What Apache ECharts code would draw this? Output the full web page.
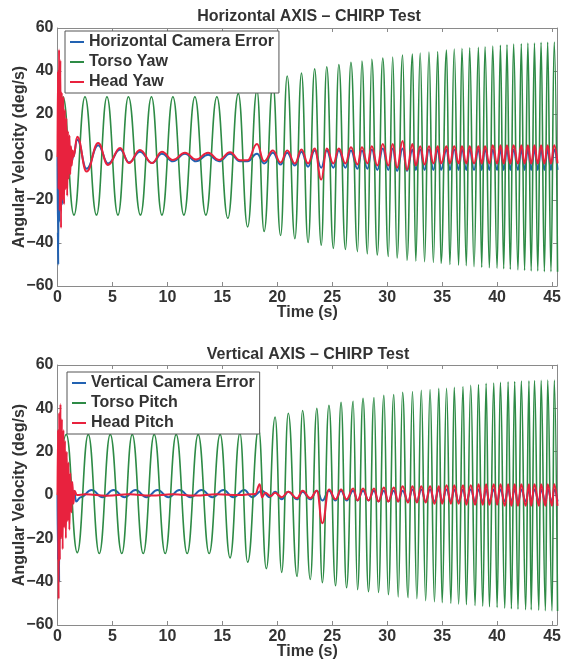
<!DOCTYPE html>
<html>
<head>
<meta charset="utf-8">
<script src="https://cdn.jsdelivr.net/npm/echarts@6/dist/echarts.min.js"></script>
<style>
html,body{margin:0;padding:0;background:#fff;}
#chart{width:561px;height:661px;}
</style>
</head>
<body>
<div id="chart"></div>
<script>
// ---------- DATA ----------
const xTicks = [0, 5, 10, 15, 20, 25, 30, 35, 40, 45];
const yTicks = [-60, -40, -20, 0, 20, 40, 60];

// Horizontal axis: times of the torso extrema (s)
const topTimes = [0, 0.5, 1.5, 2.5, 3.55, 4.5, 5.5, 6.45, 7.55, 8.55, 9.5, 10.5, 11.5, 12.5, 13.5, 14.5, 15.5, 16.45,
  17.3, 18.15, 18.8, 19.6, 20.3, 20.9, 21.6, 22.2, 22.8, 23.4, 24.0, 24.5, 25.1, 25.6, 26.2, 26.7, 27.3, 27.7, 28.2, 28.6,
  29.1, 29.6, 30.1, 30.5, 30.9, 31.4, 31.8, 32.3, 32.6, 33.0, 33.4, 33.8, 34.2, 34.6, 34.9, 35.4, 35.7, 36.1, 36.5, 36.8,
  37.2, 37.5, 37.9, 38.3, 38.6, 38.9, 39.3, 39.6, 40.0, 40.3, 40.6, 40.9, 41.2, 41.5, 41.9, 42.2, 42.5, 42.8, 43.1, 43.4,
  43.7, 44.0, 44.3, 44.6, 44.9, 45.2, 45.5];
const torsoYaw = [0, 28, -27, 28, -27, 28, -27, 28, -27, 28, -27, 28, -27, 28, -27, 28, -28.5, 29.5,
  -32.5, 31, -34.6, 34, -36.5, 37.7, -38, 39, -39.8, 41, -41, 42, -42.5, 43, -43, 44, -44, 44.6, -45, 45.5,
  -45.6, 46, -46.3, 46.5, -47, 47.4, -48, 47.9, -48.4, 48.4, -48.7, 48.8, -49, 49, -49.5, 49.8, -50, 50.2, -50.3, 50.5,
  -50.5, 50.8, -51, 51, -51.3, 51.3, -51.5, 51.6, -51.7, 52, -52, 52.2, -52.2, 52.5, -52.5, 52.7, -52.7, 53, -53, 53,
  -53, 53.3, -53.3, 53.4, -53.3, 53.5, -53.4];

const headYawT = [0, 0.04, 0.09, 0.14, 0.2, 0.26, 0.32, 0.39, 0.46, 0.53, 0.6, 0.67, 0.74, 0.81, 0.88, 0.95, 1.02, 1.09, 1.16, 1.23,
  1.3, 1.38, 1.45, 1.8, 2.65, 3.7, 4.6, 5.7, 6.5, 7.5, 8.6, 9.5, 10.5, 11.6, 12.6, 13.7, 14.7, 15.7, 16.6];
const headYawV = [0, 40, -15, 50, -25, 45, -33, 30, -20, 28, -22, 22, -15, 18, -18, 12, -10, 10, -8, 5,
  -4, 3, 0, 9.4, -6.8, 6.5, -3.7, 4.2, -2.8, 3.3, -2.8, 2.5, -1.4, 2, -1.2, 2, -1.4, 2.2, -1.5];
// from 17.3 s on, at the torso extrema times
const headYawLate = [-1.5, 6, -2, 3, -2.5, 3, -3, 3.5, -3, 4, -10.5, 4, -3, 4, -3, 4.5, -3.5, 4.5, -3, 5,
  -4, 6, -4, 6, -5, 7.5, -6, 6, -4, 5, -3.5, 5, -3, 5, -3, 5, -3, 5, -3, 5,
  -3, 5, -3, 5, -3, 5, -3, 5.5, -3, 5.5, -3, 5.5, -3, 5.5, -3, 5.5, -3, 5.5, -3, 5.5,
  -3, 5.5, -3, 5.5, -3, 5.5, -3];

const hCamErrT = [0, 0.03, 0.07, 0.12, 0.18, 0.25, 0.32, 0.4, 0.48, 0.56, 0.64, 0.72, 0.8, 0.88, 0.96, 1.04, 1.12, 1.2, 1.3, 1.42,
  1.8, 2.65, 3.7, 4.6, 5.7, 6.5, 7.5, 8.6, 9.5, 10.5, 11.6, 12.6, 13.7, 14.7, 15.7, 16.6];
const hCamErrV = [0, -35, -50, 30, -30, 25, -25, 20, -22, 15, -15, 12, -12, 8, -8, 6, -5, 4, -2, 0,
  8, -5.5, 5.5, -3, 3.5, -2.5, 2.5, -2.8, 1.5, -2, 1.5, -2, 1, -2, 1.5, -2];
const hCamErrLate = [-2, 1.5, -3, 2, -3.5, 2, -4, 2.5, -4.5, 3, -5, 3, -5, 3, -5, 3, -5.5, 3, -5.5, 3.5,
  -6, 4, -6, 4, -6.5, 4, -6.5, 3.5, -6, 3.5, -6, 3.5, -6, 3.5, -6, 3.5, -6, 3.5, -6, 3.5,
  -6, 3.5, -6, 3.5, -6, 3.5, -6, 3.5, -6, 3.5, -6, 3.5, -6, 3.5, -6, 3.5, -6, 3.5, -6, 3.5,
  -6, 3.5, -6, 3.5, -6, 3.5, -6];

// Vertical axis
const botTimes = [0, 0.8, 1.8, 2.8, 3.8, 4.8, 5.85, 6.8, 7.8, 8.8, 9.8, 10.8, 11.8, 12.8, 13.8, 14.8, 15.7, 16.6,
  17.3, 18.3, 19.0, 19.8, 20.4, 21.0, 21.8, 22.3, 23.0, 23.6, 24.1, 24.7, 25.3, 25.8, 26.3, 26.9, 27.3, 27.8, 28.3, 28.8,
  29.2, 29.7, 30.1, 30.6, 31.0, 31.4, 31.9, 32.3, 32.7, 33.1, 33.5, 33.9, 34.3, 34.7, 35.0, 35.4, 35.8, 36.1, 36.5, 36.9,
  37.2, 37.6, 38.0, 38.3, 38.7, 39.0, 39.3, 39.7, 40.0, 40.3, 40.7, 41.0, 41.3, 41.6, 41.9, 42.2, 42.6, 42.9, 43.1, 43.4,
  43.8, 44.0, 44.4, 44.6, 45.0, 45.2, 45.5];
const torsoPitch = [0, 28, -26.6, 28, -27, 28, -27, 28, -27, 28, -27, 28, -27, 28, -27, 28, -29, 28.5,
  -31, 30.5, -34, 36, -35.7, 37.7, -37.6, 39, -39, 40, -40.5, 41.4, -41.9, 42.8, -42.8, 43.2, -43.7, 44.6, -44.6, 45,
  -45, 46, -46, 46.4, -47, 47.4, -47.4, 47.8, -47.9, 48.3, -48.8, 48.7, -49.3, 49.2, -49.7, 49.2, -50, 49.7, -50.3, 50,
  -50.6, 50.6, -51, 51, -51.3, 51.5, -51.6, 51.7, -51.9, 52, -52.2, 52.2, -52.5, 52.4, -52.7, 52.6, -52.9, 52.7, -53, 52.8,
  -53.2, 52.9, -53.4, 53, -53.5, 53, -53.5];

const headPitchT = [0, 0.05, 0.1, 0.15, 0.21, 0.27, 0.33, 0.4, 0.47, 0.54, 0.61, 0.68, 0.76, 0.84, 0.92, 1.0, 1.08, 1.17, 1.26, 1.35,
  1.45, 1.55, 1.75, 2.5, 4.5, 6.5, 8.5, 10.5, 12.5, 14.5, 16.5, 18.0, 18.4, 18.6, 18.9, 19.4];
const headPitchV = [0, 30, -48, 38, -30, 42, -20, 35, -25, 30, -15, 25, -20, 20, -12, 15, -16, 10, -8, 6,
  -4, 2, 0, 0.3, -0.3, 0.3, -0.2, 0.3, -0.2, 0.3, 0, 0.5, 5, -1, 1, -0.5];
// from 19.8 s on, at the torso extrema times
const headPitchLate = [1, -1, 1.5, -1.5, 2, -1.5, 2, -13, 2.5, -2, 2.5, -2, 3, -2.5, 3, -2.5, 3, -3, 3.5, -3,
  3.5, -3, 4, -3.5, 4, -3.5, 4, -3.5, 4, -4, 4, -4, 4.5, -4, 4.5, -4, 4.5, -4.5, 4.5, -4.5,
  5, -4.5, 5, -4.5, 5, -4.5, 5, -5, 5, -5, 5, -5, 5, -5, 5, -5, 5, -5, 5, -5,
  5, -5, 5, -5];

const vCamErrT = [0, 0.05, 0.1, 0.15, 0.2, 0.26, 0.32, 0.39, 0.46, 0.54, 0.62, 0.71, 0.8, 0.9, 1.0, 1.1, 1.2, 1.35, 1.5, 1.7,
  2.1, 3.1, 4.1, 5.1, 6.1, 7.1, 8.1, 9.1, 10.1, 11.1, 12.1, 13.1, 14.1, 15.1, 16.0, 17.0, 17.7, 18.6, 19.3];
const vCamErrV = [0, -30, 20, -40, 25, -20, 18, -15, 12, -12, 10, -8, 6, -6, 4, -5, 3, -4, 2, -3,
  -1, 2.3, -1, 2.3, -1, 2.3, -1, 2.3, -1, 2.3, -1, 2.3, -1, 2.3, -1, 2.3, -1, 2, -1];
const vCamErrLate = [1.5, -2, 1.5, -2, 1.5, -2, 2, -2.5, 2, -2.5, 2, -2.5, 2, -2.5, 2, -2.5, 2, -3, 2, -3,
  2, -3, 2, -3, 2.5, -3, 2.5, -3, 2.5, -3, 2.5, -3, 2.5, -3, 2.5, -3, 2.5, -3, 2.5, -3,
  2.5, -3, 2.5, -3, 2.5, -3, 2.5, -3, 2.5, -3, 2.5, -3, 2.5, -3, 2.5, -3, 2.5, -3, 2.5, -3,
  2.5, -3, 2.5, -3];

// ---------- CHART ----------
function pairs(t, v) {
  const n = Math.min(t.length, v.length), out = [];
  for (let i = 0; i < n; i++) out.push([t[i], v[i]]);
  return out;
}
const FONT = '"Liberation Sans", Arial, Helvetica, sans-serif';
const TXT = '#333';
const AX = '#8a8a8a';
const C_BLUE = '#2262b2', C_GREEN = '#2e8b46', C_RED = '#e8223e';

const grids = [
  { left: 57.5, top: 28, width: 499.5, height: 258, containLabel: false, outerBoundsMode: 'none' },
  { left: 57.5, top: 365, width: 499.5, height: 260, containLabel: false, outerBoundsMode: 'none' }
];
const xMax = 45.45;

function xAxisFor(g, pos) {
  const main = pos === 'bottom';
  return {
    type: 'value', gridIndex: g, position: pos, min: 0, max: xMax, interval: 5,
    axisLine: { show: true, onZero: false, lineStyle: { color: AX, width: 1 } },
    axisTick: { show: true, inside: true, length: 4, lineStyle: { color: AX } },
    splitLine: { show: false },
    axisLabel: {
      show: main, margin: 4, fontSize: 16, fontWeight: 'bold', color: TXT, fontFamily: FONT,
      formatter: v => (xTicks.indexOf(v) >= 0 ? String(v) : '')
    },
    name: main ? 'Time (s)' : '', nameLocation: 'middle', nameGap: 19, nameMoveOverlap: false,
    nameTextStyle: { fontSize: 16, fontWeight: 'bold', color: TXT, fontFamily: FONT }
  };
}
function yAxisFor(g, pos) {
  const main = pos === 'left';
  return {
    type: 'value', gridIndex: g, position: pos, min: yTicks[0], max: yTicks[yTicks.length - 1], interval: 20,
    axisLine: { show: true, onZero: false, lineStyle: { color: AX, width: 1 } },
    axisTick: { show: true, inside: true, length: 4, lineStyle: { color: AX } },
    splitLine: { show: false },
    axisLabel: {
      show: main, margin: 4, fontSize: 16, fontWeight: 'bold', color: TXT, fontFamily: FONT,
      formatter: v => String(v).replace('-', '\u2212')
    },
    name: main ? 'Angular Velocity (deg/s)' : '', nameLocation: 'middle', nameGap: 30, nameMoveOverlap: false,
    nameTextStyle: { fontSize: 16, fontWeight: 'bold', color: TXT, fontFamily: FONT }
  };
}
function lineSeries(name, data, color, width, xi, yi) {
  return {
    type: 'line', name, data, xAxisIndex: xi, yAxisIndex: yi,
    showSymbol: false, symbol: 'none', smooth: 0.45, smoothMonotone: 'x',
    clip: true, animation: false,
    itemStyle: { color }, lineStyle: { color, width }
  };
}
function legendFor(left, top, names) {
  return {
    orient: 'vertical', left, top, data: names,
    icon: 'rect', itemWidth: 14, itemHeight: 2, itemGap: 4,
    padding: [3, 5, 3, 5],
    backgroundColor: '#fff', borderColor: '#555', borderWidth: 1, borderRadius: 0,
    textStyle: { fontSize: 16, fontWeight: 'bold', color: TXT, fontFamily: FONT },
    selectedMode: false, z: 10
  };
}

const option = {
  animation: false,
  backgroundColor: '#fff',
  grid: grids,
  xAxis: [xAxisFor(0, 'bottom'), xAxisFor(0, 'top'), xAxisFor(1, 'bottom'), xAxisFor(1, 'top')],
  yAxis: [yAxisFor(0, 'left'), yAxisFor(0, 'right'), yAxisFor(1, 'left'), yAxisFor(1, 'right')],
  legend: [
    legendFor(65, 31, ['Horizontal Camera Error', 'Torso Yaw', 'Head Yaw']),
    legendFor(67, 372, ['Vertical Camera Error', 'Torso Pitch', 'Head Pitch'])
  ],
  graphic: [
    { type: 'text', x: 309, y: 17, style: { text: 'Horizontal AXIS \u2013 CHIRP Test', textAlign: 'center', textVerticalAlign: 'middle', fill: TXT, font: 'bold 16px ' + FONT } },
    { type: 'text', x: 308, y: 355, style: { text: 'Vertical AXIS \u2013 CHIRP Test', textAlign: 'center', textVerticalAlign: 'middle', fill: TXT, font: 'bold 16px ' + FONT } }
  ],
  series: [
    lineSeries('Horizontal Camera Error', pairs(hCamErrT, hCamErrV).concat(pairs(topTimes.slice(18), hCamErrLate)), C_BLUE, 2, 0, 0),
    lineSeries('Torso Yaw', pairs(topTimes, torsoYaw), C_GREEN, 1.6, 0, 0),
    lineSeries('Head Yaw', pairs(headYawT, headYawV).concat(pairs(topTimes.slice(18), headYawLate)), C_RED, 2, 0, 0),
    lineSeries('Vertical Camera Error', pairs(vCamErrT, vCamErrV).concat(pairs(botTimes.slice(21), vCamErrLate)), C_BLUE, 2, 2, 2),
    lineSeries('Torso Pitch', pairs(botTimes, torsoPitch), C_GREEN, 1.6, 2, 2),
    lineSeries('Head Pitch', pairs(headPitchT, headPitchV).concat(pairs(botTimes.slice(21), headPitchLate)), C_RED, 2, 2, 2)
  ]
};
const chart = echarts.init(document.getElementById('chart'), null, { renderer: 'canvas' });
chart.setOption(option);
</script>
</body>
</html>
